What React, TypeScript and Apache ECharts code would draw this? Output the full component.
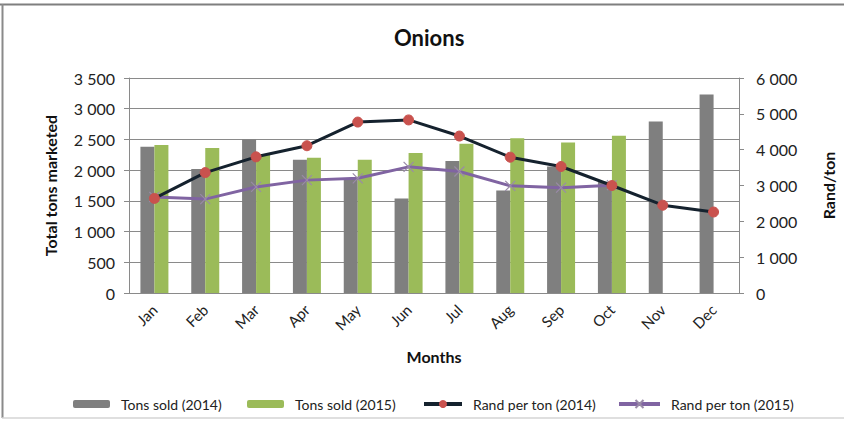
import React, { useEffect, useRef } from "react";
import * as echarts from "echarts";

const months = ["Jan", "Feb", "Mar", "Apr", "May", "Jun", "Jul", "Aug", "Sep", "Oct", "Nov", "Dec"];
const tons2014 = [2380, 2020, 2500, 2170, 1860, 1540, 2150, 1670, 2060, 1810, 2790, 3230];
const tons2015 = [2410, 2360, 2250, 2200, 2170, 2280, 2430, 2520, 2450, 2560, null, null];
const rand2014 = [2640, 3360, 3800, 4110, 4770, 4830, 4380, 3790, 3530, 3000, 2450, 2260];
const rand2015 = [2680, 2620, 2960, 3150, 3200, 3520, 3390, 2990, 2940, 3010, null, null];

const leftAxis = { min: 0, max: 3500, interval: 500 };
const rightAxis = { min: 0, max: 6000, interval: 1000 };

const seriesNames = ["Tons sold (2014)", "Tons sold (2015)", "Rand per ton (2014)", "Rand per ton (2015)"];

const FONT = "Lato, 'Open Sans', sans-serif";
const fmt = (v: number) => String(v).replace(/\B(?=(\d{3})+(?!\d))/g, " ");

export default function App() {
  const ref = useRef<HTMLDivElement>(null);
  useEffect(() => {
    document.body.style.margin = "0";
    const chart = echarts.init(ref.current!, null, { renderer: "svg" });
    const axisGray = "#8a8a8a";
    const legendText = { fontFamily: FONT, fontSize: 14, color: "#222", padding: [0, 0, 0, 6] };
    chart.setOption({
      animation: false,
      backgroundColor: "#fff",
      textStyle: { fontFamily: FONT },
      title: {
        text: "Onions",
        left: 389,
        top: 21,
        textStyle: { fontFamily: FONT, fontSize: 22, fontWeight: "bold", color: "#111" },
      },
      graphic: [
        { type: "line", shape: { x1: 0, y1: 4.5, x2: 844, y2: 4.5 }, style: { stroke: "#7f7f7f", lineWidth: 2 } },
        { type: "line", shape: { x1: 2.5, y1: 4, x2: 2.5, y2: 418 }, style: { stroke: "#8a8a8a", lineWidth: 2 } },
        { type: "line", shape: { x1: 2, y1: 418, x2: 844, y2: 418 }, style: { stroke: "#d4d4d4", lineWidth: 1.5 } },
      ],
      legend: [
        { data: [seriesNames[0]], left: 68, top: 392, itemWidth: 37, itemHeight: 8, textStyle: legendText },
        { data: [seriesNames[1]], left: 242, top: 392, itemWidth: 37, itemHeight: 8, textStyle: legendText },
        { data: [seriesNames[2]], left: 417, top: 392, itemWidth: 38, itemHeight: 10, textStyle: legendText, lineStyle: { width: 4 } },
        { data: [seriesNames[3]], left: 612, top: 392, itemWidth: 41, itemHeight: 10, textStyle: legendText, lineStyle: { width: 4 } },
      ],
      grid: { left: 129, right: 101, top: 78, bottom: 130 },
      xAxis: {
        type: "category",
        data: months,
        axisLine: { lineStyle: { color: axisGray } },
        axisTick: { show: false },
        axisLabel: { rotate: 45, fontSize: 15, color: "#222", margin: 14, fontFamily: FONT },
        name: "Months",
        nameLocation: "middle",
        nameGap: 55,
        nameTextStyle: { fontSize: 16, fontWeight: "bold", color: "#111", fontFamily: FONT },
      },
      yAxis: [
        {
          type: "value",
          ...leftAxis,
          name: "Total tons marketed",
          nameLocation: "middle",
          nameRotate: 90,
          nameGap: 71,
          nameTextStyle: { fontSize: 16, fontWeight: "bold", color: "#111", fontFamily: FONT },
          axisLine: { show: true, lineStyle: { color: axisGray } },
          axisTick: { show: true, length: 5, lineStyle: { color: axisGray } },
          axisLabel: { formatter: fmt, fontSize: 16, color: "#222", margin: 14, fontFamily: FONT },
          splitLine: { lineStyle: { color: axisGray, width: 1 } },
        },
        {
          type: "value",
          ...rightAxis,
          position: "right",
          name: "Rand/ton",
          nameLocation: "middle",
          nameRotate: 90,
          nameGap: 81,
          nameTextStyle: { fontSize: 16, fontWeight: "bold", color: "#111", fontFamily: FONT },
          axisLine: { show: true, lineStyle: { color: axisGray } },
          axisTick: { show: true, length: 5, lineStyle: { color: axisGray } },
          axisLabel: { formatter: fmt, fontSize: 16, color: "#222", margin: 17, fontFamily: FONT },
          splitLine: { show: false },
        },
      ],
      series: [
        {
          name: seriesNames[0],
          type: "bar",
          data: tons2014,
          barWidth: 14,
          barGap: "0%",
          itemStyle: { color: "#7f7f7f" },
        },
        {
          name: seriesNames[1],
          type: "bar",
          data: tons2015,
          barWidth: 14,
          barGap: "0%",
          itemStyle: { color: "#9bbb59" },
        },
        {
          name: seriesNames[2],
          type: "line",
          yAxisIndex: 1,
          data: rand2014,
          symbol: "circle",
          symbolSize: 10,
          lineStyle: { color: "#15222e", width: 3 },
          itemStyle: { color: "#c9524e", borderColor: "#c9524e" },
          z: 4,
        },
        {
          name: seriesNames[3],
          type: "line",
          yAxisIndex: 1,
          data: rand2015,
          symbol: "path://M0,0L10,10M0,10L10,0",
          symbolSize: 10,
          lineStyle: { color: "#8064a2", width: 3 },
          itemStyle: { color: "#8064a2", borderColor: "#9a8aa8", borderWidth: 1.2 },
          z: 3,
        },
      ],
    });
    return () => chart.dispose();
  }, []);
  return <div ref={ref} style={{ width: 844, height: 423 }} />;
}
